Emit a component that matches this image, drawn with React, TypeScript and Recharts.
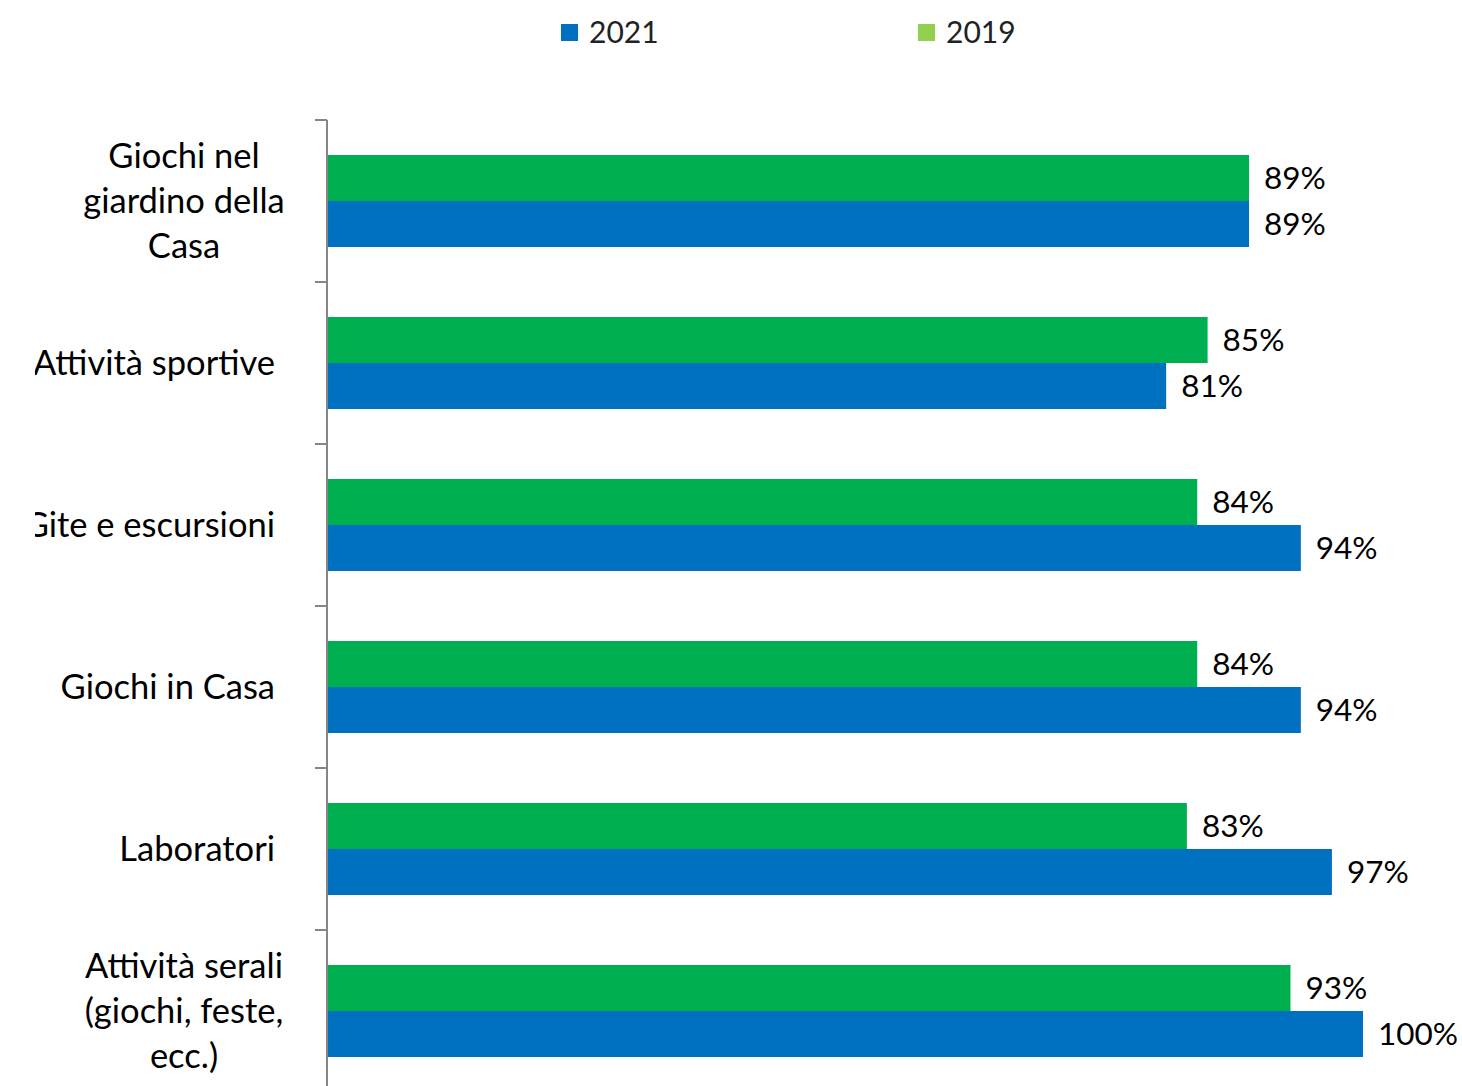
import React from "react";
import { BarChart, Bar, XAxis, YAxis, LabelList } from "recharts";

const categories = [
  "Giochi nel\ngiardino della\nCasa",
  "Attività sportive",
  "Gite e escursioni",
  "Giochi in Casa",
  "Laboratori",
  "Attività serali\n(giochi, feste,\necc.)",
];
const values2019 = [89, 85, 84, 84, 83, 93];
const values2021 = [89, 81, 94, 94, 97, 100];

const data = categories.map((name, i) => ({
  name,
  v2019: values2019[i],
  v2021: values2021[i],
}));

const GREEN = "#00B050";
const BLUE = "#0070C0";
const LEGEND_GREEN = "#92D050";
const AXIS = "#868686";
const FONT = "Lato, 'Noto Sans', sans-serif";

const CHART_W = 1462;
const CHART_H = 1100;
const TOP = 120;
const BOTTOM = 8;
const AXIS_X = 327;
const BAND = (CHART_H - TOP - BOTTOM) / categories.length;

// category label, centred for wrapped text, right-aligned otherwise; also draws
// the tick mark at the band boundary like Excel does
const CategoryTick = (props: any) => {
  const { y, payload } = props;
  const lines = String(payload.value).split("\n");
  const lineH = 45;
  const startY = y - 2 - ((lines.length - 1) * lineH) / 2;
  const multi = lines.length > 1;
  return (
    <g>
      <line x1={AXIS_X - 12} x2={AXIS_X} y1={y - BAND / 2} y2={y - BAND / 2} stroke={AXIS} strokeWidth={2} />
      <text
        fontFamily={FONT}
        fontSize={34.5}
        fill="#000"
        textAnchor={multi ? "middle" : "end"}
        dominantBaseline="central"
      >
        {lines.map((l, i) => (
          <tspan key={i} x={multi ? 184 : 275} y={startY + i * lineH}>
            {l}
          </tspan>
        ))}
      </text>
    </g>
  );
};

const ChartLegend = () => (
  <div style={{ position: "absolute", left: 0, top: 0, width: CHART_W, height: 60, fontFamily: FONT, fontSize: 30, color: "#222" }}>
    <div style={{ position: "absolute", left: 561, top: 24, width: 17, height: 17, background: BLUE }} />
    <div style={{ position: "absolute", left: 589, top: 12, lineHeight: "38px" }}>2021</div>
    <div style={{ position: "absolute", left: 918, top: 24, width: 17, height: 17, background: LEGEND_GREEN }} />
    <div style={{ position: "absolute", left: 946, top: 12, lineHeight: "38px" }}>2019</div>
  </div>
);

const pct = (v: any) => `${v}%`;

export default function App() {
  return (
    <div style={{ position: "fixed", left: 0, top: 0, width: 1462, height: 1086, background: "#fff", overflow: "hidden" }}>
      <div style={{ position: "absolute", left: 35, top: 0, width: 1462 - 35, height: 1086, overflow: "hidden" }}>
        <div style={{ marginLeft: -35 }}>
          <BarChart
            width={CHART_W}
            height={CHART_H}
            data={data}
            layout="vertical"
            margin={{ top: TOP, right: 99, bottom: BOTTOM, left: 0 }}
            barGap={0}
            barSize={46}
          >
            <XAxis type="number" domain={[0, 100]} hide />
            <YAxis
              type="category"
              dataKey="name"
              width={AXIS_X}
              axisLine={{ stroke: AXIS, strokeWidth: 2 }}
              tickLine={false}
              tick={<CategoryTick />}
              interval={0}
            />
            <Bar dataKey="v2019" fill={GREEN} isAnimationActive={false}>
              <LabelList dataKey="v2019" position="right" offset={15} formatter={pct} fontFamily={FONT} fontSize={31.5} fill="#000" />
            </Bar>
            <Bar dataKey="v2021" fill={BLUE} isAnimationActive={false}>
              <LabelList dataKey="v2021" position="right" offset={15} formatter={pct} fontFamily={FONT} fontSize={31.5} fill="#000" />
            </Bar>
          </BarChart>
        </div>
      </div>
      <ChartLegend />
    </div>
  );
}
